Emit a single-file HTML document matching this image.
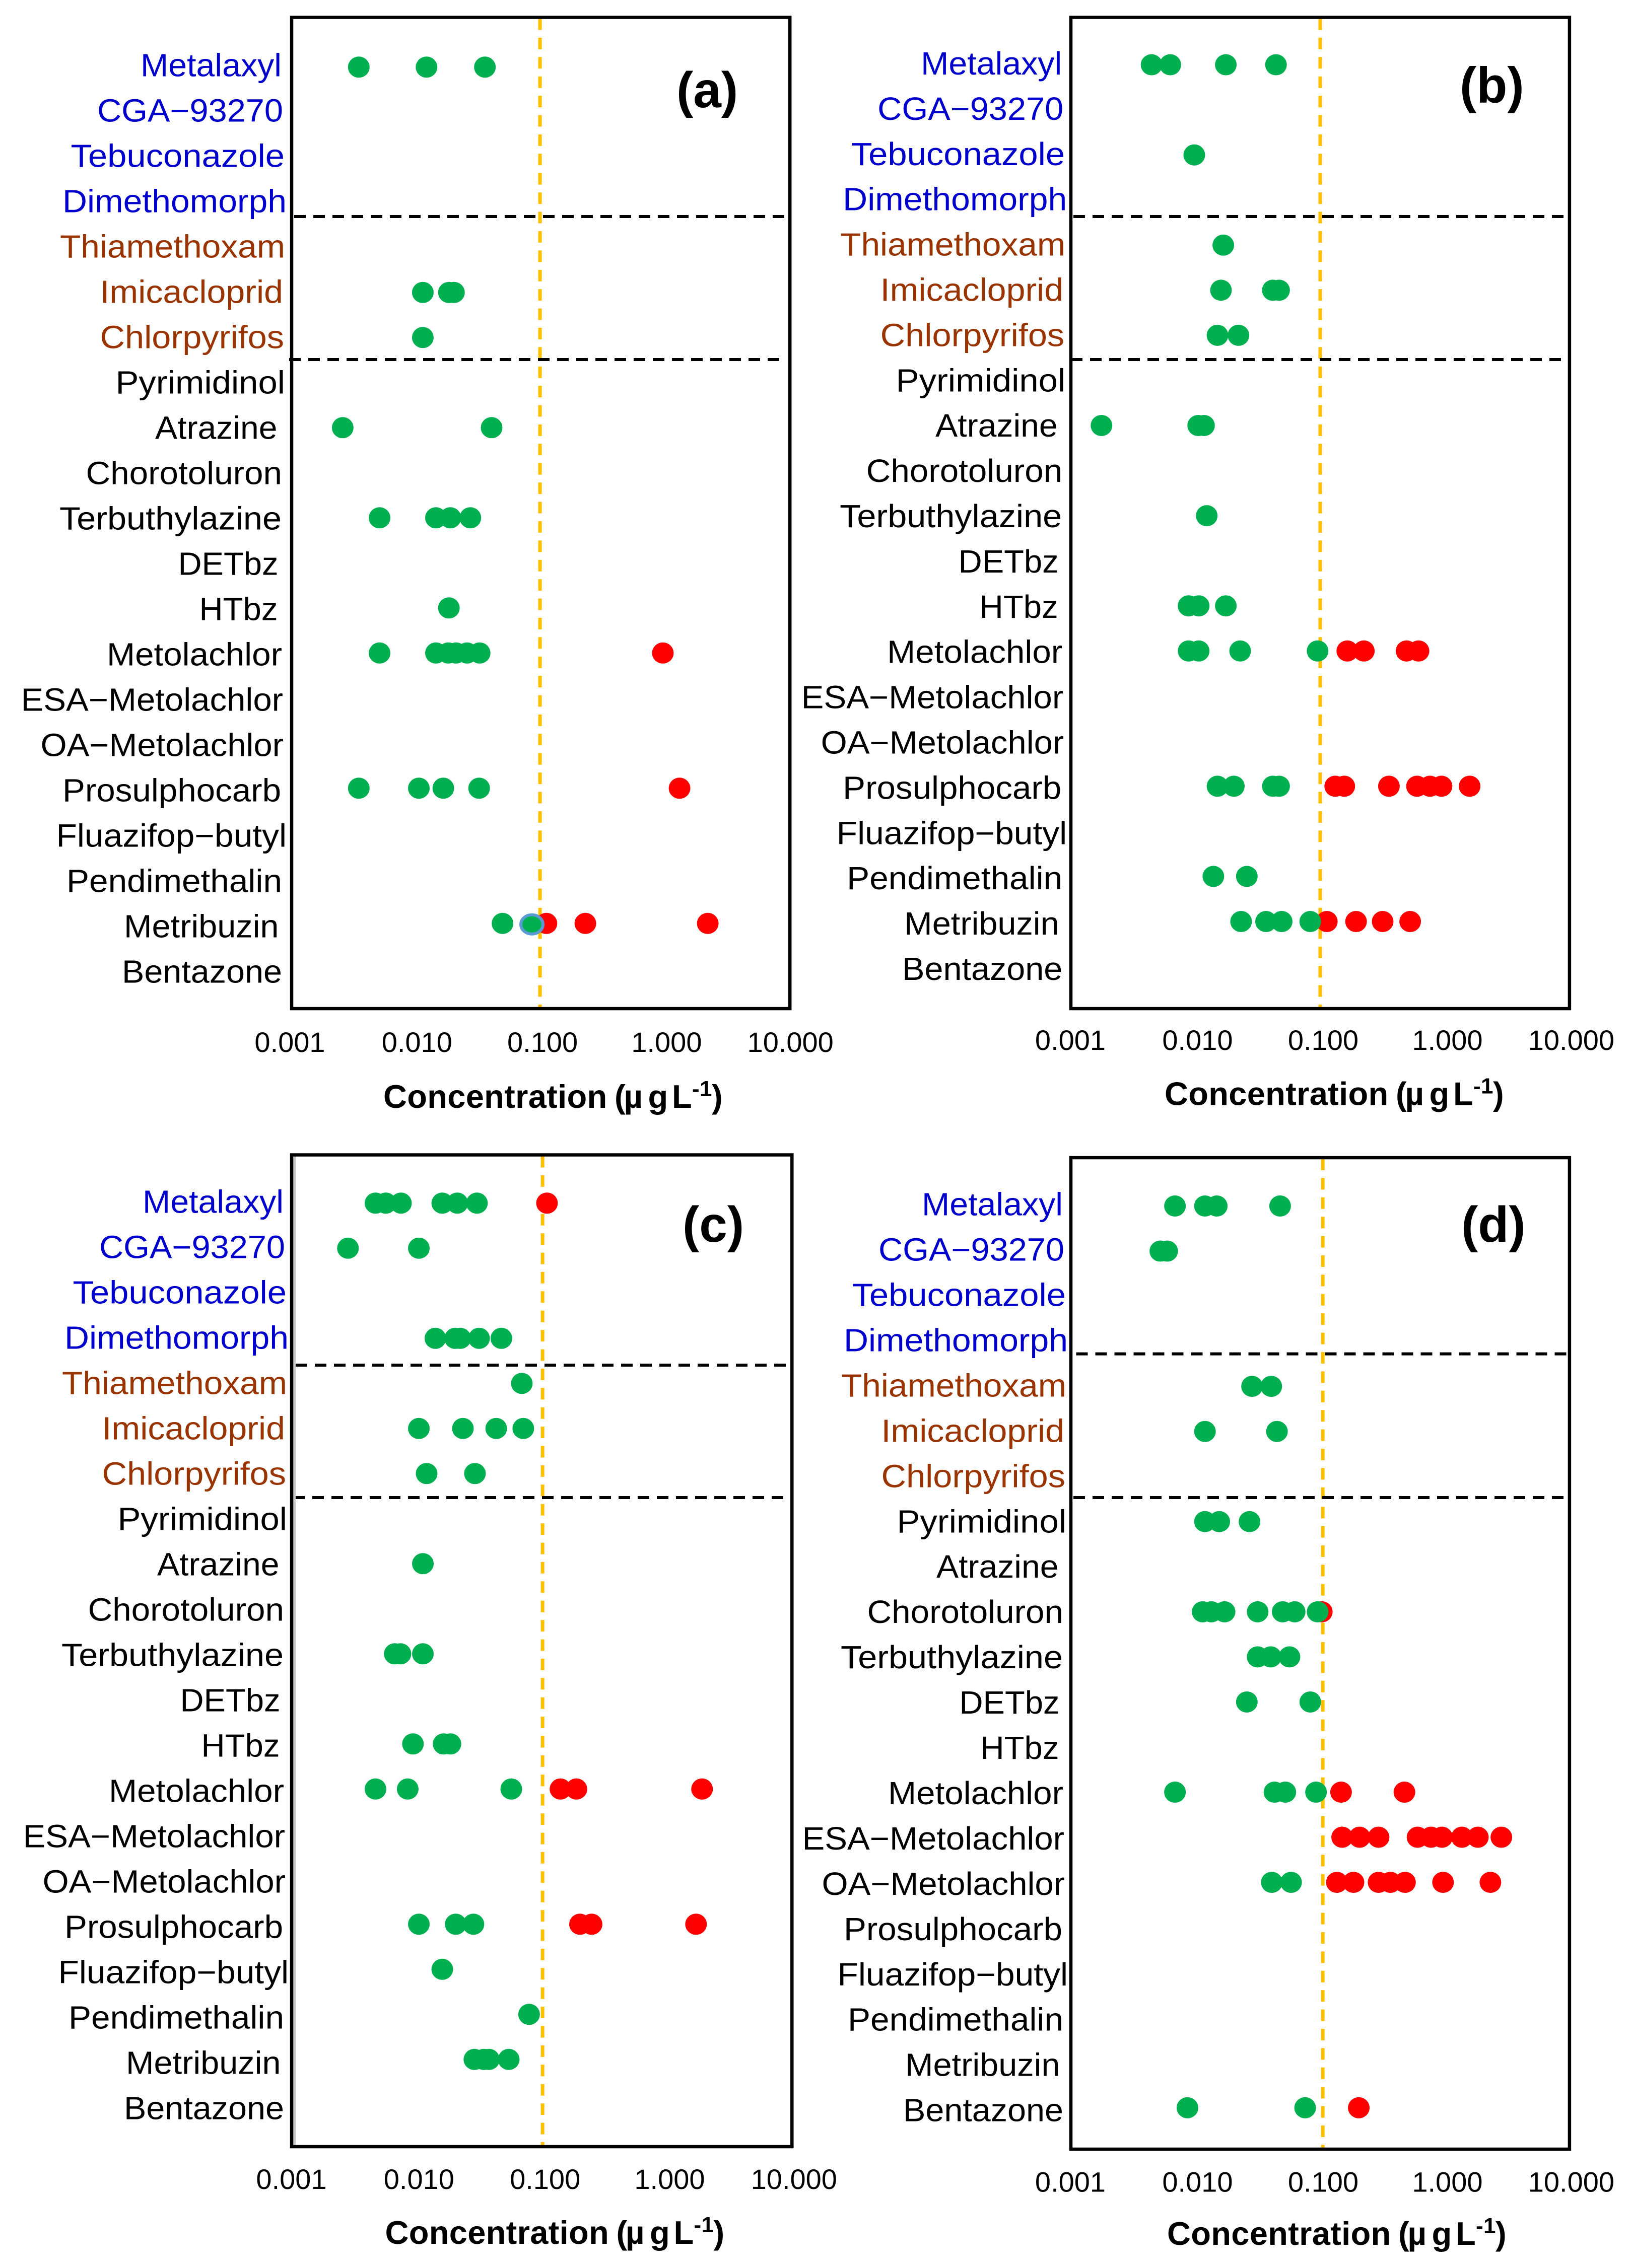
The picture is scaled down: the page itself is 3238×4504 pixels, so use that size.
<!DOCTYPE html>
<html lang="en">
<head>
<meta charset="utf-8">
<title>Pesticide concentrations by compound</title>
<style>
html,body{margin:0;padding:0;background:#fff}
svg{display:block}
text{font-family:"Liberation Sans",Arial,sans-serif}
</style>
</head>
<body>
<svg id="figure" xmlns="http://www.w3.org/2000/svg" width="3238" height="4504" viewBox="0 0 3238 4504">
<rect x="0" y="0" width="3238" height="4504" fill="#ffffff"></rect>
</svg>
<script>
const compounds = ["Metalaxyl","CGA−93270","Tebuconazole","Dimethomorph","Thiamethoxam","Imicacloprid","Chlorpyrifos","Pyrimidinol","Atrazine","Chorotoluron","Terbuthylazine","DETbz","HTbz","Metolachlor","ESA−Metolachlor","OA−Metolachlor","Prosulphocarb","Fluazifop−butyl","Pendimethalin","Metribuzin","Bentazone"];
const xTicks = [0.001,0.01,0.1,1,10];
const xTickLabels = ["0.001","0.010","0.100","1.000","10.000"];
const thresholds = [0.0986,0.1,0.1014,0.105];

const aGreen = [[.00346,.0121,.0356],[],[],[],[],[.0113,.0183,.0201],[.0113],[],[.00257,.0403],[],[.00508,.0144,.0188,.0272],[],[.0183],[.00508,.0144,.0181,.0209,.0256,.0323],[],[],[.00346,.0105,.0165,.032],[],[],[.0493],[]];
const aRed = [[],[],[],[],[],[],[],[],[],[],[],[],[],[.955],[],[],[1.30],[],[],[.111,.228,2.19],[]];
const aOutlinedValues = [.0849];
const aOutlinedCompounds = ["Metribuzin"];

const bGreen = [[.00444,.00627,.0175,.0442],[],[.00977],[],[.0167],[.016,.0417,.0468],[.015,.0221],[],[.00176,.0105,.0117],[],[.0123],[],[.00879,.0106,.0175],[.0088,.0106,.0228,.0953],[],[],[.015,.0203,.0417,.0468],[],[.0139,.0258],[.0232,.0368,.0491,.0832],[]];
const bRed = [[],[],[],[],[],[],[],[],[],[],[],[],[],[.165,.224,.493,.615],[],[],[.132,.156,.356,.598,.76,.94,1.58],[],[],[.113,.194,.317,.527],[]];

const cGreen = [[.00468,.00566,.00748,.016,.0211,.0303],[.00282,.0104],[],[.0141,.0203,.0223,.0315,.0475],[.0692],[.0104,.0234,.0432,.0711],[.012,.0292],[],[.0112],[],[.00667,.00741,.0112],[],[.00933,.0164,.0186],[.00468,.00847,.057],[],[],[.0104,.0205,.0284],[.016],[.0791],[.0289,.0344,.0378,.0544],[]];
const cRed = [[.11],[],[],[],[],[],[],[],[],[],[],[],[],[.141,.189,1.91],[],[],[.202,.25,1.71],[],[],[],[]];

const dGreen = [[.00684,.0119,.0148,.0477],[.00522,.00592],[],[],[.0284,.0405],[.0119,.045],[],[.0119,.0155,.0271],[],[.0114,.0134,.0171,.0315,.05,.0624,.0953],[.0315,.0401,.0567],[.0258,.0833],[],[.00684,.043,.0525,.0926],[],[.0409,.0584],[],[],[],[],[.00861,.0757]];
const dRed = [[],[],[],[],[],[],[],[],[],[.103],[],[],[],[.147,.474],[.15,.207,.294,.604,.775,.948,1.37,1.84,2.84],[.136,.185,.294,.366,.479,.967,2.32],[],[],[],[],[.204]];

/* layout only, not data */
const LABEL_COLORS = {blue:"#0000CC",brown:"#993300",black:"#000000"};
const labelLeft = [279,193,140.5,124,119,198.5,198.5,229.5,308,170.5,118,353.5,395.5,212,41.5,80.5,124,111.5,132,246,242];
const labelRight = [559,562,565,569,566,562,564,566,550.5,560,559,552.5,551.5,560,562,563,558,569,560,553.5,560];
const tickNudge = [-1,4,6,5,3.5];
const TITLE_OFFSETS = {paren:459,mu:477.5,g:525.5,L:573,sup:613,close:652};

const layouts = [
 {key:"a",green:aGreen,red:aRed,threshold:thresholds[0],left:579,right:1568.2,top:34.5,bottom:2003,rowY:133.3,rowDy:89.5,labelDx:0,labelY:151.4,labelDy:90,tickShift:-2.5,tickY:2089,titleX:761,titleY:2200,tagX:1343,tagY:213,d1:[430,584,1568],d2:[714,574,1560],outlinedValues:aOutlinedValues,outlinedCompounds:aOutlinedCompounds},
 {key:"b",green:bGreen,red:bRed,threshold:thresholds[1],left:2126,right:3115.9,top:34.5,bottom:2003,rowY:128.6,rowDy:89.55,labelDx:1549.2,labelY:148,labelDy:89.9,tickShift:0,tickY:2085,titleX:2312,titleY:2194.6,tagX:2898,tagY:203.6,d1:[430,2131,3116],d2:[714,2126,3113]},
 {key:"c",green:cGreen,red:cRed,threshold:thresholds[2],left:579,right:1572.3,top:2293.5,bottom:4263,rowY:2389.3,rowDy:89.5,labelDx:4,labelY:2408.6,labelDy:90,tickShift:0.5,tickY:4347,titleX:764.5,titleY:4456,tagX:1355,tagY:2466,d1:[2711,587,1572],d2:[2974,582,1570],shadow:true},
 {key:"d",green:dGreen,red:dRed,threshold:thresholds[3],left:2126,right:3115.9,top:2299,bottom:4268,rowY:2395,rowDy:89.54,labelDx:1551,labelY:2413.6,labelDy:89.95,tickShift:0,tickY:4352.4,titleX:2317,titleY:4458,tagX:2901,tagY:2466,d1:[2688.6,2136.5,3123],d2:[2974,2131,3116]}
];

const NS = "http://www.w3.org/2000/svg";
const root = document.getElementById("figure");

function make(parent, tag, attrs) {
  const el = document.createElementNS(NS, tag);
  for (const k in attrs) el.setAttribute(k, attrs[k]);
  parent.appendChild(el);
  return el;
}
function labelColor(i) {
  if (i < 4) return LABEL_COLORS.blue;
  if (i < 7) return LABEL_COLORS.brown;
  return LABEL_COLORS.black;
}
function slug(s) {
  return s.toLowerCase().replace(/[^a-z0-9]+/g, "-");
}

function renderPanel(p) {
  const xScale = v => p.left + (Math.log10(v) + 3) / 4 * (p.right - p.left);
  const yScale = i => p.rowY + i * p.rowDy;

  const g = make(root, "g", {});
  
  

  const refX = xScale(p.threshold);
  const ref = make(g, "line", {x1:refX, x2:refX, y1:p.top + 2, y2:p.bottom, stroke:"#FFC000", "stroke-width":7, "stroke-dasharray":"23 15.4"});
  
  

  [p.d1, p.d2].forEach((d, n) => {
    const sep = make(g, "line", {x1:d[1], x2:d[2], y1:d[0], y2:d[0], stroke:"#000", "stroke-width":6, "stroke-dasharray":"23 15"});
    
    
  });

  p.red.forEach((vals, i) => vals.forEach(v => {
    const dot = make(g, "ellipse", {cx:xScale(v), cy:yScale(i), rx:21.5, ry:21, fill:"#FF0000"});
    
    
  }));
  p.green.forEach((vals, i) => vals.forEach(v => {
    const dot = make(g, "ellipse", {cx:xScale(v), cy:yScale(i), rx:21.5, ry:21, fill:"#00B050"});
    
    
  }));
  (p.outlinedValues || []).forEach((v, n) => {
    const i = compounds.indexOf(p.outlinedCompounds[n]);
    const dot = make(g, "ellipse", {cx:xScale(v), cy:yScale(i) + 2, rx:22, ry:19, fill:"#00B050", stroke:"#5B9BD5", "stroke-width":6});
    
    
  });

  if (p.shadow) {
    const sh = make(g, "line", {x1:p.left + 5.5, x2:p.left + 5.5, y1:p.top, y2:p.bottom, stroke:"#c8c8c8", "stroke-width":5});
    
    
  }

  const frame = make(g, "rect", {x:p.left, y:p.top, width:p.right - p.left, height:p.bottom - p.top, fill:"none", stroke:"#000", "stroke-width":6.5});
  
  

  compounds.forEach((name, i) => {
    const t = make(g, "text", {x:labelLeft[i] + p.labelDx, y:p.labelY + i * p.labelDy, "font-size":64, fill:labelColor(i), textLength:labelRight[i] - labelLeft[i], lengthAdjust:"spacingAndGlyphs"});
    t.textContent = name;
    
    
  });

  xTicks.forEach((v, i) => {
    const t = make(g, "text", {x:xScale(v) + tickNudge[i] + p.tickShift, y:p.tickY, "font-size":56, fill:"#000", "text-anchor":"middle"});
    t.textContent = xTickLabels[i];
    
    
  });

  const title = make(g, "text", {x:p.titleX, y:p.titleY, "font-size":65, "font-weight":"bold", fill:"#000", "letter-spacing":"0.3"});
  
  
  const parts = [
    ["Concentration", 0, 0, 65],
    ["(", TITLE_OFFSETS.paren, 0, 65],
    ["µ", TITLE_OFFSETS.mu, 0, 65],
    ["g", TITLE_OFFSETS.g, 0, 65],
    ["L", TITLE_OFFSETS.L, 0, 65],
    ["-1", TITLE_OFFSETS.sup, -23, 44],
    [")", TITLE_OFFSETS.close, 0, 65]
  ];
  parts.forEach(part => {
    const s = make(title, "tspan", {x:p.titleX + part[1], y:p.titleY + part[2], "font-size":part[3]});
    s.textContent = part[0];
  });

  const tag = make(g, "text", {x:p.tagX, y:p.tagY, "font-size":100, "font-weight":"bold", fill:"#000"});
  tag.textContent = "(" + p.key + ")";
  
  
}

layouts.forEach(renderPanel);
</script>
</body>
</html>
